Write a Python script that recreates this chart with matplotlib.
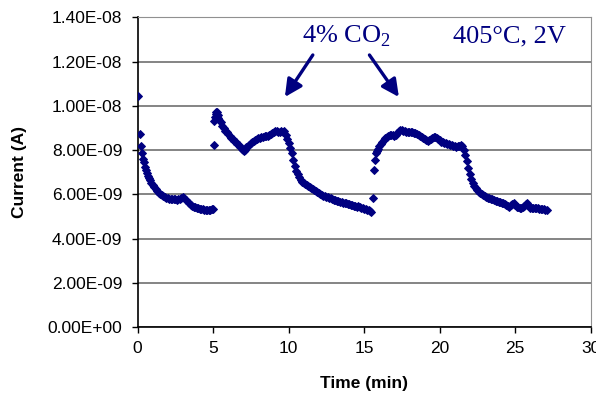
import numpy as np
import matplotlib
matplotlib.use('Agg')
import matplotlib.pyplot as plt
from matplotlib.ticker import FuncFormatter, MultipleLocator

plt.rcParams['mathtext.fontset'] = 'custom'
plt.rcParams['mathtext.rm'] = 'Liberation Serif'

# current in units of 1e-9 A, time in min
# first run (air)
t_a = [0.02, 0.13, 0.2, 0.27, 0.33, 0.4, 0.47, 0.53, 0.6, 0.67, 0.73, 0.8, 0.9, 1.0,
       1.1, 1.2, 1.3, 1.4, 1.5, 1.6, 1.7, 1.8, 1.9, 2.0, 2.1, 2.2, 2.3, 2.4, 2.5, 2.6,
       2.7, 2.8, 2.9, 3.0, 3.1, 3.2, 3.3, 3.4, 3.5, 3.6, 3.7, 3.8, 3.9, 4.0, 4.1, 4.2,
       4.3, 4.4, 4.5, 4.6, 4.7, 4.8, 4.9, 4.98]
i_a = [10.45, 8.72, 8.2, 7.85, 7.6, 7.45, 7.25, 7.1, 6.97, 6.85, 6.75, 6.65, 6.52, 6.42,
       6.32, 6.22, 6.14, 6.07, 6.01, 5.96, 5.92, 5.88, 5.85, 5.83, 5.81, 5.8, 5.8, 5.79,
       5.77, 5.76, 5.77, 5.8, 5.85, 5.88, 5.82, 5.74, 5.67, 5.6, 5.54, 5.49, 5.45, 5.42,
       5.39, 5.37, 5.35, 5.33, 5.32, 5.31, 5.3, 5.3, 5.29, 5.3, 5.32, 5.35]

# second run (4% CO2 pulse)
t_b = [5.04, 5.08, 5.12, 5.16, 5.2, 5.25, 5.3, 5.35, 5.4,
       5.5, 5.6, 5.7, 5.8, 5.9, 6.0, 6.1, 6.2, 6.3, 6.4, 6.5, 6.6, 6.7, 6.8, 6.9,
       7.0, 7.05, 7.1, 7.2, 7.3, 7.4, 7.5, 7.6, 7.7, 7.8, 7.9, 8.0, 8.1, 8.2, 8.3,
       8.4, 8.5, 8.6, 8.7, 8.8, 8.9, 9.0, 9.1, 9.2, 9.3, 9.4, 9.5, 9.6, 9.7, 9.8,
       9.9, 10.0, 10.1, 10.2, 10.3, 10.4, 10.5, 10.6, 10.7, 10.8, 10.9, 11.0, 11.1,
       11.2, 11.3, 11.4, 11.5, 11.6, 11.7, 11.8, 11.9, 12.0, 12.1, 12.2, 12.3, 12.4,
       12.5, 12.6, 12.7, 12.8, 12.9, 13.0, 13.1, 13.2, 13.3, 13.4, 13.5, 13.6, 13.7,
       13.8, 13.9, 14.0, 14.1, 14.2, 14.3, 14.4, 14.5, 14.6, 14.7, 14.8, 14.9, 15.0,
       15.1, 15.2, 15.3, 15.4, 15.48]
i_b = [8.25, 9.3, 9.5, 9.62, 9.7, 9.72, 9.6, 9.45, 9.38,
       9.25, 9.1, 8.98, 8.88, 8.8, 8.72, 8.63, 8.56, 8.49, 8.42, 8.35, 8.28, 8.21,
       8.14, 8.06, 7.99, 7.95, 8.02, 8.12, 8.19, 8.25, 8.31, 8.37, 8.42, 8.46, 8.5,
       8.53, 8.56, 8.59, 8.6, 8.62, 8.64, 8.65, 8.68, 8.73, 8.78, 8.82, 8.85, 8.86,
       8.82, 8.84, 8.86, 8.83, 8.86, 8.7, 8.52, 8.3, 8.08, 7.87, 7.55, 7.28, 7.07,
       6.9, 6.77, 6.67, 6.57, 6.5, 6.45, 6.4, 6.36, 6.32, 6.27, 6.22, 6.19, 6.15,
       6.1, 6.06, 6.02, 5.98, 5.94, 5.91, 5.89, 5.86, 5.84, 5.82, 5.79, 5.76, 5.73,
       5.71, 5.69, 5.67, 5.65, 5.63, 5.61, 5.59, 5.57, 5.55, 5.53, 5.51, 5.49, 5.47,
       5.45, 5.46, 5.42, 5.39, 5.37, 5.35, 5.32, 5.3, 5.27, 5.25, 5.22]

# third run (second 4% CO2 pulse)
t_c = [15.56, 15.66, 15.72, 15.78, 15.84, 15.9, 16.0, 16.1, 16.2, 16.3, 16.4, 16.5,
       16.6, 16.7, 16.8, 16.9, 17.0, 17.1, 17.2, 17.3, 17.4, 17.5, 17.6, 17.7, 17.8,
       17.9, 18.0, 18.1, 18.2, 18.3, 18.4, 18.5, 18.6, 18.7, 18.8, 18.9, 19.0, 19.1,
       19.2, 19.3, 19.4, 19.5, 19.6, 19.7, 19.8, 19.9, 20.0, 20.1, 20.2, 20.3, 20.4,
       20.5, 20.6, 20.7, 20.8, 20.9, 21.0, 21.1, 21.2, 21.3, 21.4, 21.5, 21.6, 21.7,
       21.8, 21.9, 22.0, 22.1, 22.2, 22.3, 22.4, 22.5, 22.6, 22.7, 22.8, 22.9, 23.0,
       23.1, 23.2, 23.3, 23.4, 23.5, 23.6, 23.7, 23.8, 23.9, 24.0, 24.1, 24.2, 24.3,
       24.4, 24.5, 24.6, 24.7, 24.8, 24.9, 25.0, 25.1, 25.2, 25.3, 25.4, 25.5, 25.6,
       25.7, 25.8, 25.9, 26.0, 26.1, 26.2, 26.3, 26.4, 26.5, 26.6, 26.7, 26.8, 26.9,
       27.0, 27.1]
i_c = [5.83, 7.08, 7.55, 7.85, 7.98, 8.05, 8.17, 8.28, 8.38, 8.46, 8.53, 8.6,
       8.65, 8.69, 8.7, 8.68, 8.65, 8.68, 8.77, 8.85, 8.9, 8.93, 8.88, 8.86, 8.84,
       8.82, 8.83, 8.81, 8.8, 8.78, 8.76, 8.72, 8.7, 8.66, 8.61, 8.56, 8.5, 8.44,
       8.41, 8.46, 8.51, 8.56, 8.58, 8.59, 8.54, 8.48, 8.44, 8.38, 8.36, 8.33, 8.31,
       8.28, 8.26, 8.24, 8.21, 8.19, 8.17, 8.15, 8.17, 8.19, 8.22, 8.19, 8.02, 7.78,
       7.5, 7.18, 6.92, 6.7, 6.52, 6.39, 6.27, 6.19, 6.12, 6.05, 6.0, 5.95, 5.91,
       5.88, 5.85, 5.82, 5.79, 5.77, 5.74, 5.71, 5.69, 5.67, 5.65, 5.62, 5.59, 5.56,
       5.52, 5.48, 5.45, 5.5, 5.55, 5.6, 5.5, 5.44, 5.41, 5.39, 5.38, 5.42, 5.48,
       5.55, 5.6, 5.48, 5.4, 5.38, 5.37, 5.37, 5.36, 5.36, 5.35, 5.34, 5.33, 5.32,
       5.31, 5.3]

navy = '#000080'

fig = plt.figure(figsize=(5.96, 3.95), dpi=100)
ax = fig.add_axes([0.231, 0.172, 0.76, 0.784])

t = np.array(t_a + t_b + t_c)
cur = np.array(i_a + i_b + i_c) * 1e-9
ax.plot(t, cur, linestyle='none', marker='D', markersize=4.0, color=navy,
        markeredgewidth=0.7, zorder=3)

ax.set_xlim(0, 30)
ax.set_ylim(0, 1.4e-8)
ax.xaxis.set_major_locator(MultipleLocator(5))
ax.yaxis.set_major_locator(MultipleLocator(2e-9))
ax.yaxis.set_major_formatter(FuncFormatter(lambda v, p: f'{v:.2E}'))

ax.grid(axis='y', color='#707070', linewidth=1.2)
ax.set_axisbelow(True)
for s in ['top', 'right']:
    ax.spines[s].set_color('#909090')
for s in ['left', 'bottom']:
    ax.spines[s].set_color('black')
    ax.spines[s].set_linewidth(1.2)

ax.tick_params(direction='out', length=4, width=1, colors='black', labelsize=12.5)
ax.tick_params(axis='y', pad=7)
ax.tick_params(axis='x', pad=6)
for lab in ax.get_xticklabels() + ax.get_yticklabels():
    lab.set_fontfamily('Liberation Sans')

ax.set_xlabel('Time (min)', fontsize=12.5, fontweight='bold', family='Liberation Sans',
              va='center')
ax.set_ylabel('Current (A)', fontsize=12.5, fontweight='bold', family='Liberation Sans',
              va='center')
ax.xaxis.set_label_coords(0.5, -0.182)
ax.yaxis.set_label_coords(-0.26, 0.5)

ax.text(13.8, 13.15e-9, '4% CO$_\\mathregular{2}$', ha='center', va='center',
        fontsize=19, family='Liberation Serif', color=navy)
ax.text(24.6, 13.15e-9, '405°C, 2V', ha='center', va='center',
        fontsize=19, family='Liberation Serif', color=navy)

arrow = dict(arrowstyle='-|>', color=navy, lw=2.4, mutation_scale=26,
             shrinkA=0, shrinkB=0)
ax.annotate('', xy=(9.75, 10.4e-9), xytext=(11.6, 12.3e-9), arrowprops=arrow)
ax.annotate('', xy=(17.3, 10.4e-9), xytext=(15.35, 12.3e-9), arrowprops=arrow)

fig.savefig('out.png', dpi=100)
